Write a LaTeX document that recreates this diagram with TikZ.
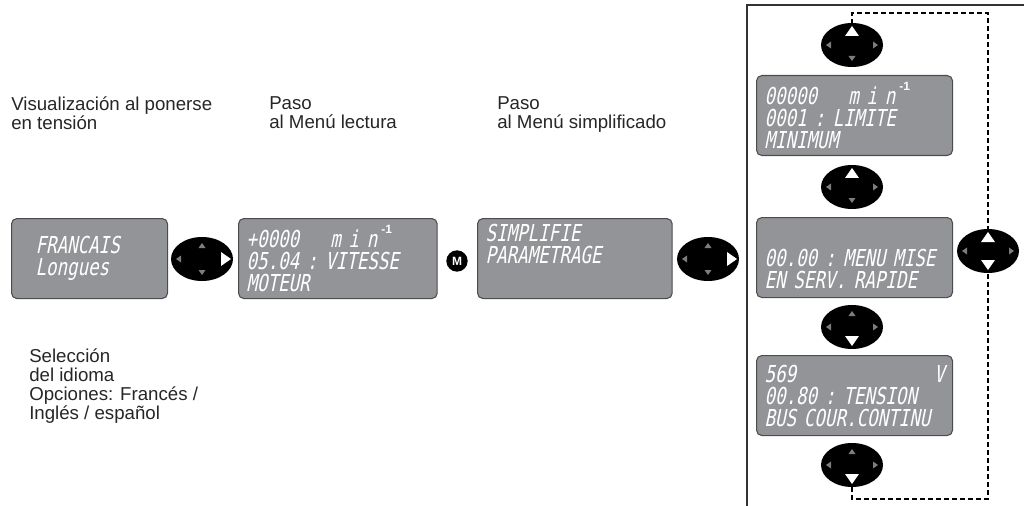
\documentclass[tikz,border=0pt]{standalone}
\usepackage{fontspec}
\setmainfont{Liberation Sans}
\newfontfamily\lcdfont[FakeSlant=0.2,FakeStretch=0.75]{DejaVu Sans Mono}
\usetikzlibrary{shapes.geometric,positioning,backgrounds}

\definecolor{lcdgray}{RGB}{147,148,151}
\definecolor{tipgray}{RGB}{125,125,125}

% one arrow mark of a keypad: node, angle, reach, lit
\newcommand{\keytip}[4]{%
  \begin{scope}[shift={(#1.center)}, rotate=#2]
    \ifnum#4=1
      \fill[white] (#3,0) -- ++(-10,-7) -- ++(0,14) -- cycle;
    \else
      \fill[tipgray] (#3-3,0) -- ++(-5,-3.5) -- ++(0,7) -- cycle;
    \fi
  \end{scope}}

% keypad: name, position, up, down, left, right
\newcommand{\keypad}[6]{%
  \node[keypad] (#1) at #2 {};
  \keytip{#1}{90}{19}{#3}
  \keytip{#1}{270}{19}{#4}
  \keytip{#1}{180}{29}{#5}
  \keytip{#1}{0}{29}{#6}}

\newcommand{\permin}{\,\raisebox{1.1ex}{\normalfont\bfseries\fontsize{9}{9}\selectfont -1}}

\begin{document}
\begin{tikzpicture}
    [x=0.75pt, y=-0.75pt,
    label text/.style={anchor=north west, inner sep=0, align=left, text=black!85,
      font=\fontsize{14}{14.25}\selectfont},
    lcd/.style={anchor=north west, rectangle, rounded corners=4pt, draw=black!70,
      line width=0.8pt, fill=lcdgray, text=white, align=left, text width=#1,
      inner xsep=6pt, minimum height=60pt,
      font=\lcdfont\fontsize{17.5}{16.5}\selectfont},
    keypad/.style={ellipse, fill=black, inner sep=0,
      minimum width=46.5pt, minimum height=33pt},
    menu key/.style={circle, fill=black, text=white, inner sep=0,
      minimum size=16pt, font=\bfseries\fontsize{9}{9}\selectfont},
    frame line/.style={line width=1.5pt, black!80},
    loop line/.style={line width=1.4pt, dash pattern=on 3.5pt off 2.5pt}]

    \useasboundingbox (0,0) rectangle (1024,506);

    % drawing the frame round the quick menu
    \draw[frame line] (747,506) -- (747,5) -- (1024,5);

    % drawing the texts
    \node[label text] (power-on) at (11,96) {Visualización al ponerse\\en tensión};
    \node[label text] (to-read) at (269,96) {Paso\\al Menú lectura};
    \node[label text] (to-simple) at (497,96) {Paso\\al Menú simplificado};
    \node[label text] (lang-choice) at (29,348)
      {Selección\\del idioma\\Opciones: Francés /\\Inglés / español};

    % drawing the displays
    \node[lcd=105pt] (lcd-lang) at (11,218)
      {\hspace*{12pt}FRANCAIS\\\hspace*{12pt}Longues};
    \node[lcd=137pt] (lcd-read) at (238,218)
      {+0000~~~~m~i~n\permin\\05.04~:~VITESSE\\MOTEUR};
    \node[lcd=134pt] (lcd-simple) at (477,218)
      {SIMPLIFIE\\PARAMETRAGE\\\strut};
    \node[lcd=135pt] (lcd-min) at (756,75)
      {00000~~~~m~i~n\permin\\0001~:~LIMITE\\MINIMUM};
    \node[lcd=135pt] (lcd-menu) at (756,217)
      {\strut\\00.00~:~MENU~MISE\\EN~SERV.~RAPIDE};
    \node[lcd=135pt] (lcd-bus) at (756,355)
      {569\hfill V\\00.80~:~TENSION\\BUS~COUR.CONTINU};

    % drawing the keys
    \keypad{key-lang}{(202,259)}{0}{0}{0}{1}
    \node[menu key] (key-m) at (457,261) {M};
    \keypad{key-simple}{(708,259)}{0}{0}{0}{1}
    \keypad{key-top}{(852,45)}{1}{0}{0}{0}
    \keypad{key-up}{(852,187)}{1}{0}{0}{0}
    \keypad{key-down}{(852,327)}{0}{1}{0}{0}
    \keypad{key-bottom}{(852,465)}{0}{1}{0}{0}
    \keypad{key-right}{(988,251)}{1}{1}{0}{0}

    % drawing the loop back to the first parameter
    \coordinate (loop-br) at (988,499);
    \coordinate (loop-tr) at (988,13);
    \begin{scope}[on background layer]
      \draw[loop line] (key-bottom.south) |- (loop-br) -- (loop-tr) -| (key-top.north);
    \end{scope}

\end{tikzpicture}
\end{document}
